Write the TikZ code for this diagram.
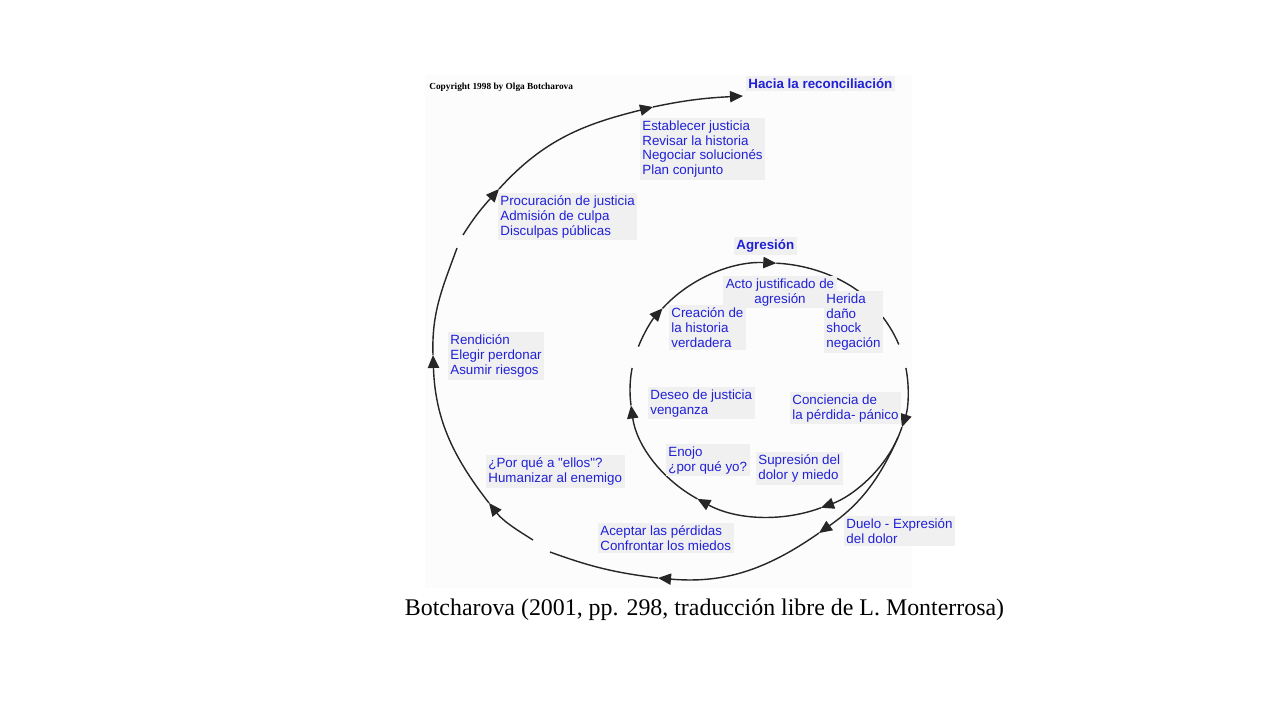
\documentclass[tikz,border=0pt]{standalone}
\usepackage{fontspec}
\setmainfont{Liberation Serif}
\newfontfamily\arialfont{Liberation Sans}
\usetikzlibrary{arrows.meta}
\definecolor{textblue}{RGB}{32,32,215}

\begin{document}
\begin{tikzpicture}[
    x=0.02cm, y=-0.02cm,
    spiral/.style={line width=0.8pt, draw=black!85},
    tip/.style={-{Triangle[length=7.4pt, width=6.4pt]}},
    ring/.style={x radius=139, y radius=127},
    lbl/.style={fill=gray!12, text=textblue, align=left, anchor=north west,
                inner sep=1.5pt, font=\arialfont\fontsize{7.6}{8.5}\selectfont},
    head/.style={lbl, font=\arialfont\bfseries\fontsize{7.6}{8.5}\selectfont}
  ]
  \useasboundingbox (0,0) rectangle (1280,720);
  \fill[black!1.2] (425,75) rectangle (912,588);

  % Inner loop
  \coordinate (c) at (769,390);
  \foreach \a in {17,22,30,68,121,173,190,200,220,273,325,339,350,377}
    \path (c) ++(\a:139 and 127) coordinate (i\a);
  \foreach \s/\e in {30/68, 68/121, 121/173, 200/220, 220/273, 273/325, 350/377}
    \draw[spiral, tip] (i\s) arc[start angle=\s, end angle=\e, ring];
  \foreach \s/\e in {173/190, 325/339, 377/390}
    \draw[spiral] (i\s) arc[start angle=\s, end angle=\e, ring];

  % Outer spiral
  \coordinate (o1) at (819,533);
  \coordinate (o2) at (658,578);
  \coordinate (o3) at (550,552);
  \coordinate (o4) at (533,540);
  \coordinate (o5) at (489,503);
  \coordinate (o6) at (433,355);
  \coordinate (o7) at (457,248);
  \coordinate (o8) at (463,235);
  \coordinate (o9) at (499,189);
  \coordinate (o10) at (653,107);
  \coordinate (o11) at (743,96);

  \draw[spiral, tip] (i22) to[out=246, in=35] (o1);
  \draw[spiral, tip] (o1) to[out=215, in=-5] (o2);
  \draw[spiral] (o2) to[out=173, in=-20] (o3);
  \draw[spiral, tip] (o4) to[out=148, in=-52] (o5);
  \draw[spiral, tip] (o5) to[out=128, in=-88] (o6);
  \draw[spiral] (o6) to[out=92, in=-110] (o7);
  \draw[spiral, tip] (o8) to[out=58, in=-132] (o9);
  \draw[spiral, tip] (o9) to[out=48, in=-166] (o10);
  \draw[spiral, tip] (o10) to[out=12, in=183] (o11);

  % Labels
  \node[font=\bfseries\fontsize{5.3}{6}\selectfont, anchor=west, inner sep=0pt]
    (copyright) at (429,87) {Copyright 1998 by Olga Botcharova};
  \node[head] (hacia) at (745.4,75.4) {Hacia la reconciliación};
  \node[lbl] (establecer) at (639.4,117.4)
    {Establecer justicia\\Revisar la historia\\Negociar solucionés\\Plan conjunto};
  \node[lbl] (procuracion) at (497.4,192.4)
    {Procuración de justicia\\Admisión de culpa\\Disculpas públicas};
  \node[head] (agresion) at (733.4,236.4) {Agresión};
  \node[lbl, anchor=north, align=center] (acto) at (780,275.4)
    {Acto justificado de\\agresión};
  \node[lbl] (herida) at (823.4,290.4) {Herida\\daño\\shock\\negación};
  \node[lbl] (creacion) at (668.4,304.4) {Creación de\\la historia\\verdadera};
  \node[lbl] (rendicion) at (447.4,331.4)
    {Rendición\\Elegir perdonar\\Asumir riesgos};
  \node[lbl] (deseo) at (647.4,386.4) {Deseo de justicia\\venganza};
  \node[lbl] (conciencia) at (789.4,391.4) {Conciencia de\\la pérdida- pánico};
  \node[lbl] (enojo) at (665.4,443.4) {Enojo\\¿por qué yo?};
  \node[lbl] (supresion) at (755.4,451.4) {Supresión del\\dolor y miedo};
  \node[lbl] (porque) at (485.4,454.4) {¿Por qué a "ellos"?\\Humanizar al enemigo};
  \node[lbl] (duelo) at (843.4,515.4) {Duelo - Expresión\\del dolor};
  \node[lbl] (aceptar) at (597.4,522.4)
    {Aceptar las pérdidas\\Confrontar los miedos};

  \node[font=\fontsize{13.6}{16}\selectfont] (caption) at (704.5,610)
    {Botcharova (2001, pp. 298, traducción libre de L. Monterrosa)};
\end{tikzpicture}
\end{document}
